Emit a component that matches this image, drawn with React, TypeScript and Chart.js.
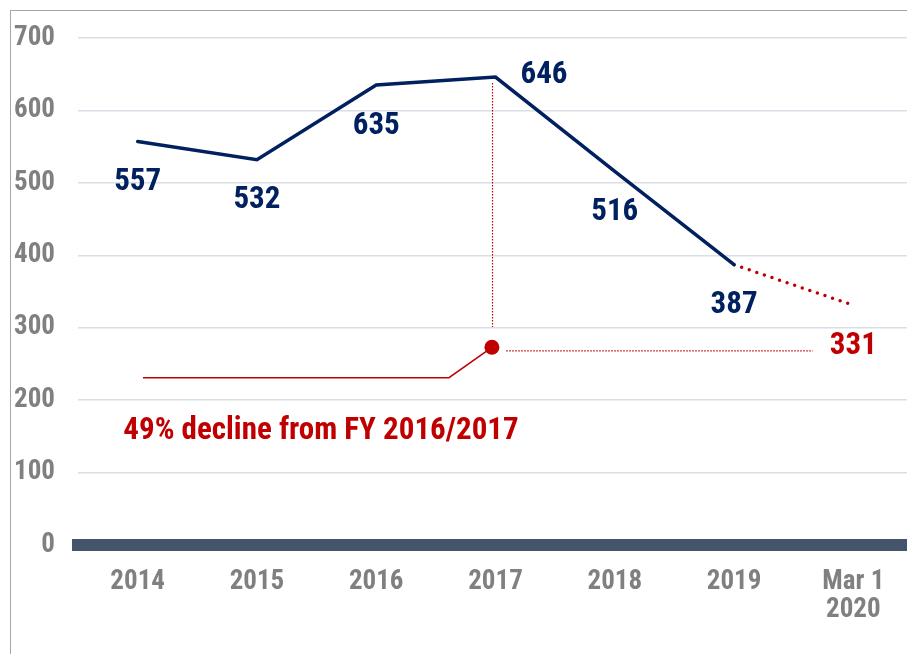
import React, { useEffect, useRef } from 'react';
import { Chart, registerables } from 'chart.js';

Chart.register(...registerables);

// ---------- data ----------
const categories: (string | string[])[] = ['2014', '2015', '2016', '2017', '2018', '2019', ['Mar 1', '2020']];
const enrollment: (number | null)[] = [557, 532, 635, 646, 516, 387, null];
const projection: (number | null)[] = [null, null, null, null, null, 387, 331];
const yMin = 0;
const yMax = 700;
const yStep = 100;
// where each value label sits relative to its point
const labelPlacement = ['below', 'below', 'below', 'right', 'below', 'below', 'below'];

// annotation (x in category-index units, y in data units)
const annotationText = '49% decline from FY 2016/2017';
const annotationTextAt = { x: -0.12, y: 157 };
const declineDot = { x: 2.97, y: 273 };
const declineStem = { x: 2.975, yTop: 638, yBottom: 301 };
const declineGuide = [{ x: 3.09, y: 268 }, { x: 5.66, y: 268 }];
const declineLeader = [{ x: 0.045, y: 231 }, { x: 2.61, y: 231 }, { x: 2.97, y: 273 }];

const NAVY = '#002060';
const RED = '#C00000';
const GRAY = '#808080';
const FONT = '"Liberation Sans Narrow", "Arial Narrow", "Roboto Condensed", "Liberation Sans", Arial, sans-serif';

const overlayPlugin = {
  id: 'overlay',
  afterDatasetsDraw(chart: any) {
    const { ctx } = chart;
    const xs = chart.scales.x;
    const ys = chart.scales.y;
    const px = (v: number) => xs.getPixelForValue(v);
    const py = (v: number) => ys.getPixelForValue(v);
    ctx.save();

    // value labels
    ctx.font = `bold 31px ${FONT}`;
    ctx.textBaseline = 'middle';
    for (let i = 0; i < categories.length; i++) {
      const v = enrollment[i] ?? projection[i];
      if (v == null) continue;
      const isProj = enrollment[i] == null;
      const x = px(i);
      const y = py(v);
      ctx.fillStyle = isProj ? RED : NAVY;
      if (labelPlacement[i] === 'right') {
        ctx.textAlign = 'left';
        ctx.fillText(String(v), x + 25, y - 2);
      } else {
        ctx.textAlign = 'center';
        ctx.fillText(String(v), x, y + 41);
      }
    }

    // vertical dotted stem
    ctx.strokeStyle = RED;
    ctx.lineWidth = 1.2;
    ctx.setLineDash([1.5, 1.5]);
    ctx.beginPath();
    ctx.moveTo(px(declineStem.x), py(declineStem.yTop));
    ctx.lineTo(px(declineStem.x), py(declineStem.yBottom));
    ctx.stroke();

    // horizontal dotted guide
    ctx.beginPath();
    ctx.moveTo(px(declineGuide[0].x), py(declineGuide[0].y));
    ctx.lineTo(px(declineGuide[1].x), py(declineGuide[1].y));
    ctx.stroke();

    // leader line
    ctx.setLineDash([]);
    ctx.lineWidth = 1.5;
    ctx.beginPath();
    declineLeader.forEach((p, k) => {
      if (k === 0) ctx.moveTo(px(p.x), py(p.y));
      else ctx.lineTo(px(p.x), py(p.y));
    });
    ctx.stroke();

    // dot
    ctx.fillStyle = RED;
    ctx.beginPath();
    ctx.arc(px(declineDot.x), py(declineDot.y), 7.5, 0, Math.PI * 2);
    ctx.fill();

    // annotation text
    ctx.font = `bold 31px ${FONT}`;
    ctx.textAlign = 'left';
    ctx.textBaseline = 'middle';
    ctx.fillText(annotationText, px(annotationTextAt.x), py(annotationTextAt.y));

    ctx.restore();
  },
};

export default function App() {
  const canvasRef = useRef<HTMLCanvasElement>(null);

  useEffect(() => {
    if (!canvasRef.current) return;
    const chart = new Chart(canvasRef.current, {
      type: 'line',
      data: {
        labels: categories as any,
        datasets: [
          {
            data: enrollment,
            borderColor: NAVY,
            borderWidth: 3.5,
            pointRadius: 0,
            tension: 0,
            borderCapStyle: 'round',
            borderJoinStyle: 'miter',
          },
          {
            data: projection,
            borderColor: RED,
            borderWidth: 3.5,
            borderDash: [0, 8],
            borderCapStyle: 'round',
            pointRadius: 0,
            tension: 0,
          },
        ],
      },
      options: {
        animation: false,
        responsive: false,
        devicePixelRatio: 1,
        layout: { padding: { left: 0, right: 2, top: 28, bottom: 0 } },
        plugins: { legend: { display: false }, tooltip: { enabled: false } },
        scales: {
          x: {
            offset: true,
            grid: { display: false, drawTicks: false },
            border: { display: true, width: 12, color: '#44546A' },
            ticks: {
              color: GRAY,
              padding: 23,
              maxRotation: 0,
              autoSkip: false,
              font: { family: FONT, size: 27, weight: 'bold', lineHeight: 1.05 },
            },
            afterFit(scale: any) {
              scale.height = 111;
            },
          },
          y: {
            min: yMin,
            max: yMax,
            grid: { color: '#D9DEE7', lineWidth: 1.5, drawTicks: false },
            border: { display: false },
            ticks: {
              stepSize: yStep,
              color: GRAY,
              padding: 23,
              font: { family: FONT, size: 27, weight: 'bold' },
            },
            afterFit(scale: any) {
              scale.width = 68;
              scale.paddingTop = 0;
              scale.paddingBottom = 0;
            },
          },
        },
      },
      plugins: [overlayPlugin],
    });
    return () => chart.destroy();
  }, []);

  return (
    <div style={{ position: 'relative', left: 2, top: 2, width: 905, height: 646 }}>
      <div
        style={{
          position: 'absolute',
          left: 0,
          top: 0,
          width: 904,
          height: 646,
          boxSizing: 'border-box',
          borderLeft: '1.5px solid #A6A6A6',
          borderTop: '1.5px solid #A6A6A6',
          borderRight: '1.5px solid #A6A6A6',
        }}
      />
      <canvas ref={canvasRef} width={905} height={646} style={{ position: 'absolute', left: 0, top: 0 }} />
    </div>
  );
}
